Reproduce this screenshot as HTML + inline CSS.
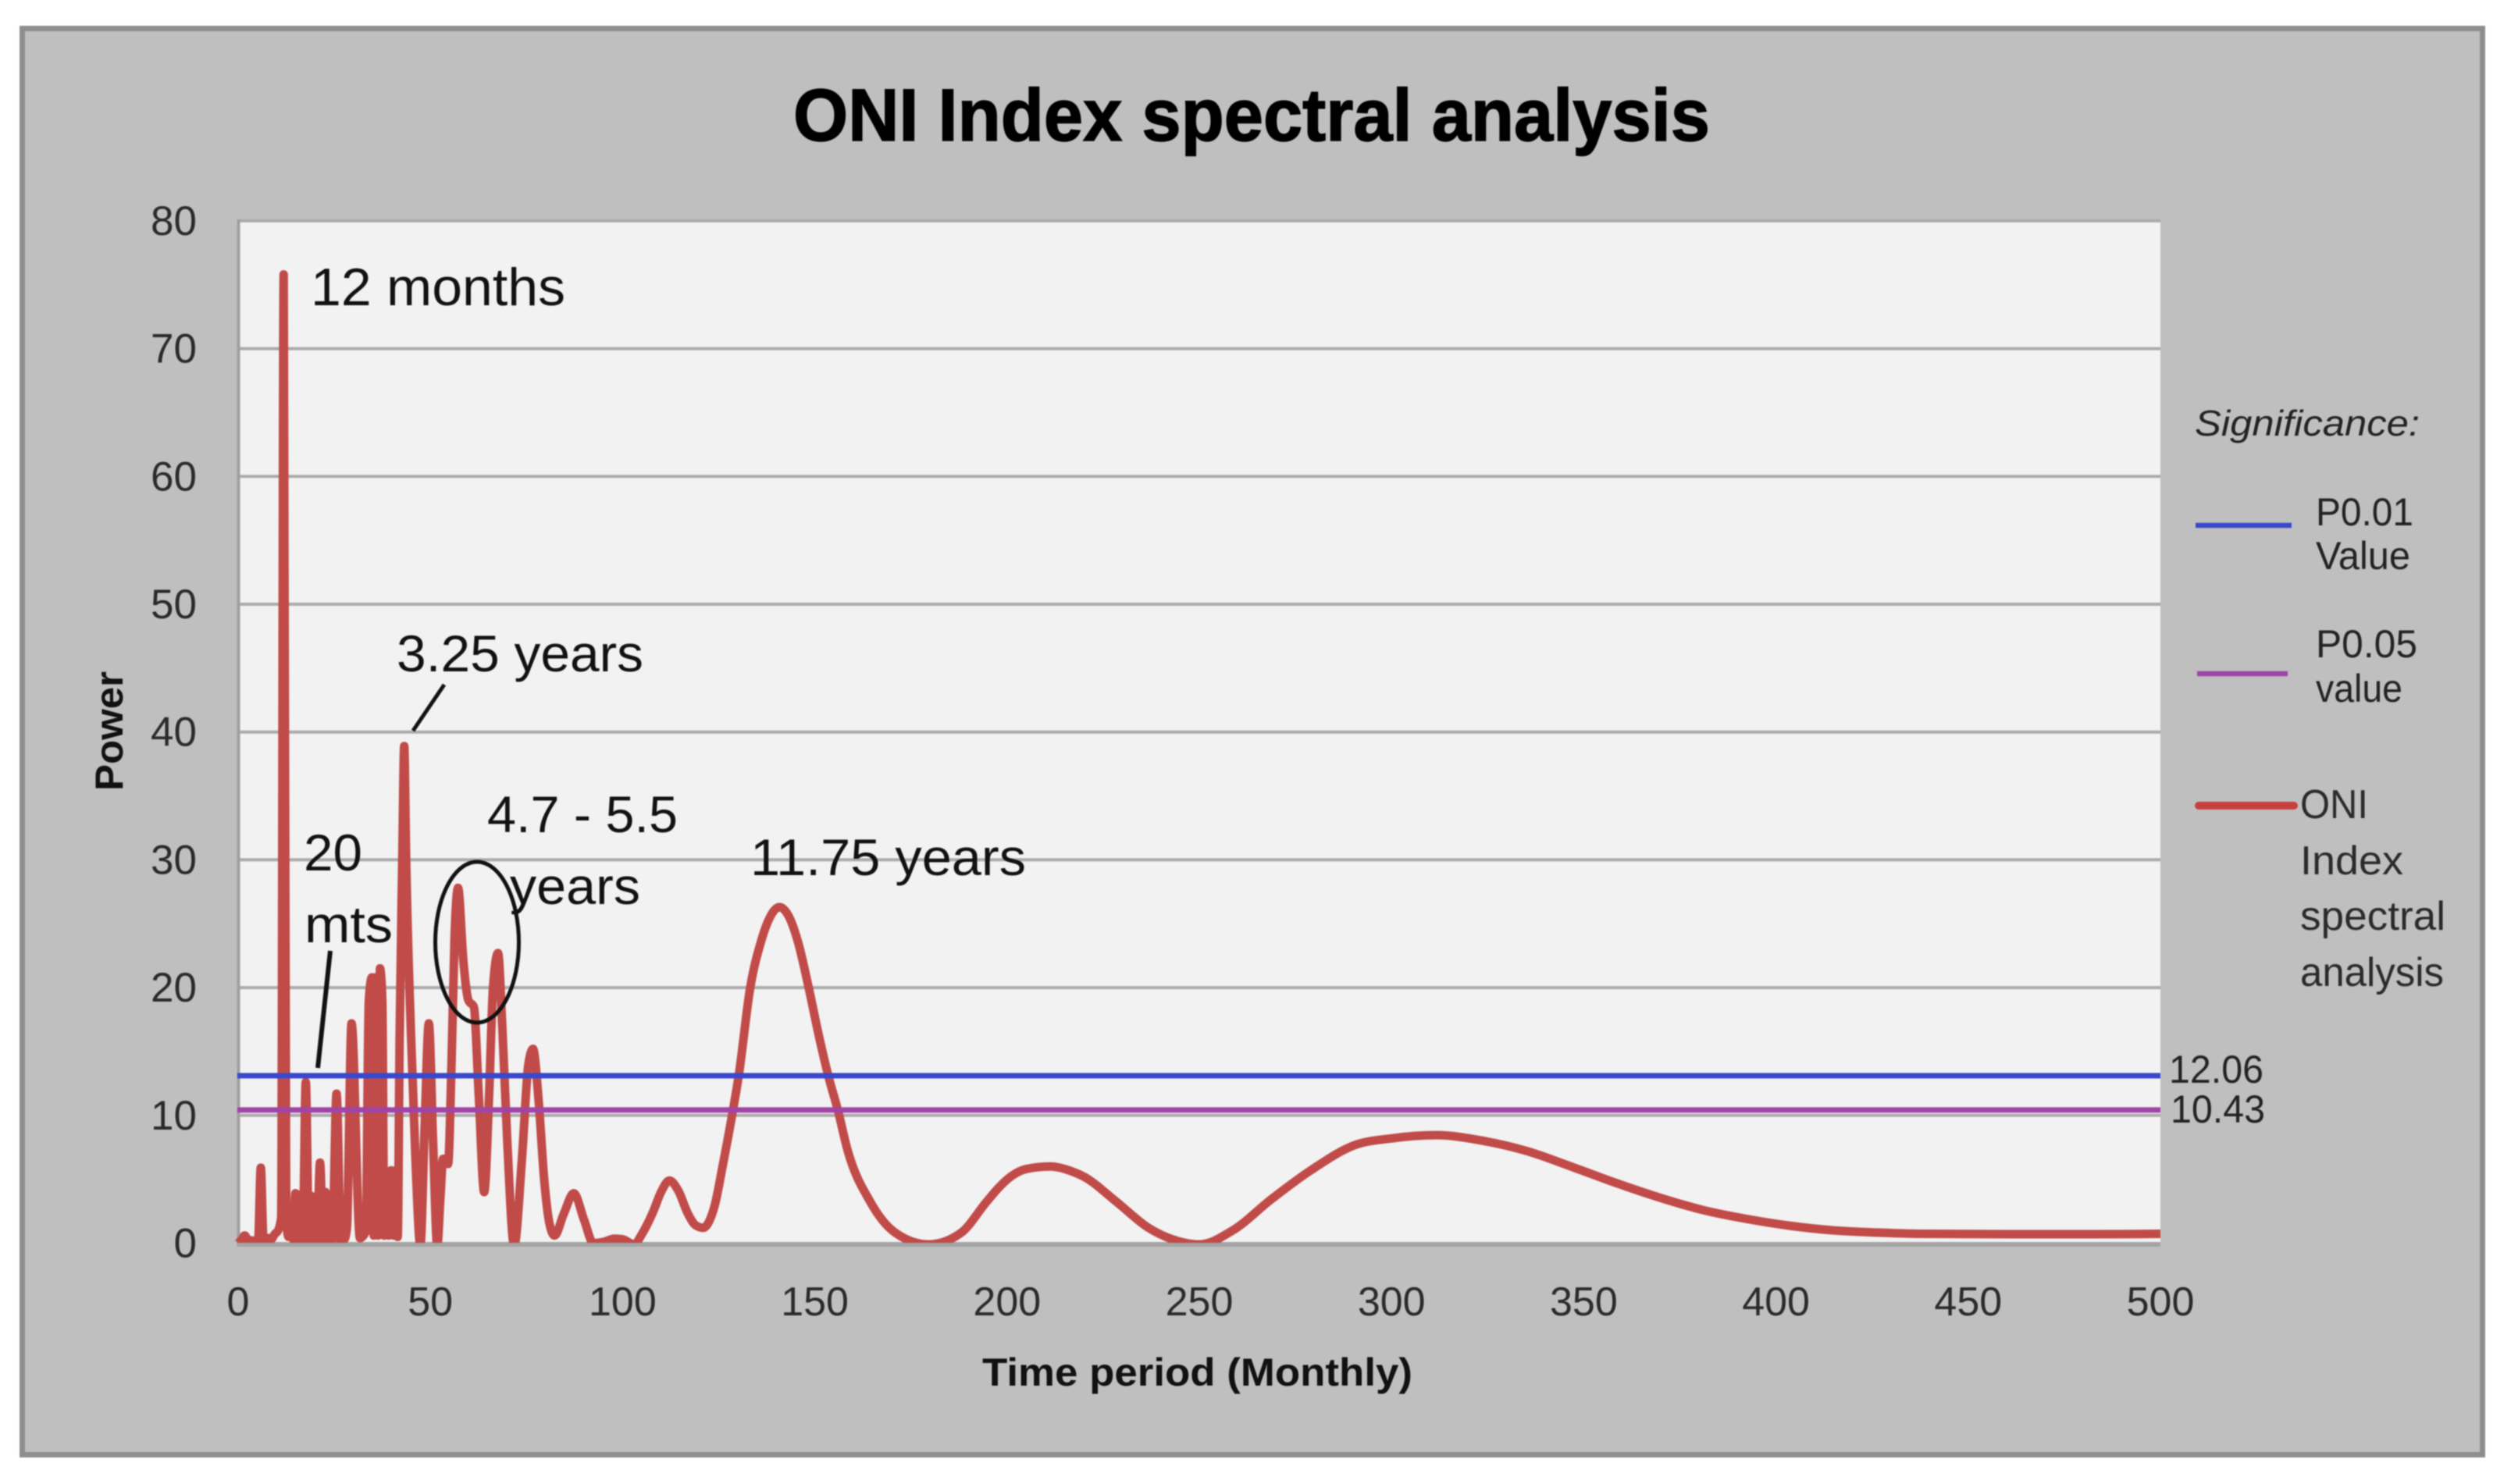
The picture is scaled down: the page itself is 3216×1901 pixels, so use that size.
<!DOCTYPE html>
<html lang="en">
<head>
<meta charset="utf-8">
<title>ONI Index spectral analysis</title>
<style>
html,body{margin:0;padding:0;background:#fff;}
svg{display:block;filter:blur(0.7px);}
text{font-family:"Liberation Sans",Arial,sans-serif;}
</style>
</head>
<body>
<svg id="chart" xmlns="http://www.w3.org/2000/svg" width="3216" height="1901" viewBox="0 0 3216 1901">
  <defs>
    <clipPath id="plot-clip"><rect x="300" y="200" width="2470" height="1392"></rect></clipPath>
  </defs>
  <rect x="28.5" y="36.5" width="3151" height="1827" fill="#bfbfbf" stroke="#8e8e8e" stroke-width="7"></rect>
  <rect x="305" y="283" width="2462" height="1310" fill="#f2f2f2"></rect>
  <g id="grid"></g>
  <line x1="305.5" y1="281" x2="305.5" y2="1596" stroke="#a0a0a0" stroke-width="4"></line>
  <line x1="304" y1="1594" x2="2767" y2="1594" stroke="#a4a4a4" stroke-width="6"></line>
  <g id="y-ticks"></g>
  <g id="x-ticks"></g>
  <g id="series" clip-path="url(#plot-clip)"></g>
  <g id="thresholds"></g>

  <text x="1016" y="180" font-size="95" font-weight="700" fill="#000" stroke="#000" stroke-width="1.5" textLength="1174" lengthAdjust="spacingAndGlyphs">ONI Index spectral analysis</text>
  <text x="1258" y="1775" font-size="50" font-weight="700" fill="#111" textLength="551" lengthAdjust="spacingAndGlyphs">Time period (Monthly)</text>
  <text transform="translate(157 1013) rotate(-90)" font-size="50" font-weight="700" fill="#111" textLength="153" lengthAdjust="spacingAndGlyphs">Power</text>

  <g fill="#111">
    <text x="398" y="391" font-size="68" textLength="326" lengthAdjust="spacingAndGlyphs">12 months</text>
    <text x="508" y="860" font-size="66" textLength="316" lengthAdjust="spacingAndGlyphs">3.25 years</text>
    <text x="624" y="1066" font-size="66" textLength="244" lengthAdjust="spacingAndGlyphs">4.7 - 5.5</text>
    <text x="653" y="1158" font-size="66" textLength="167" lengthAdjust="spacingAndGlyphs">years</text>
    <text x="389" y="1115" font-size="66" textLength="75" lengthAdjust="spacingAndGlyphs">20</text>
    <text x="390" y="1207" font-size="66" textLength="113" lengthAdjust="spacingAndGlyphs">mts</text>
    <text x="961" y="1121" font-size="66" textLength="353" lengthAdjust="spacingAndGlyphs">11.75 years</text>
  </g>
  <line x1="529" y1="936" x2="569" y2="877" stroke="#111" stroke-width="5"></line>
  <line x1="407" y1="1368" x2="423" y2="1218" stroke="#111" stroke-width="6"></line>
  <ellipse cx="611" cy="1207" rx="53.5" ry="103" fill="none" stroke="#111" stroke-width="5"></ellipse>

  <g>
    <text x="2811" y="558" font-size="46" font-style="italic" fill="#222" textLength="288" lengthAdjust="spacingAndGlyphs">Significance:</text>
    <line x1="2812" y1="673" x2="2935" y2="673" stroke="#3a48cc" stroke-width="6.5"></line>
    <text x="2966" y="673" font-size="50" fill="#222" textLength="125" lengthAdjust="spacingAndGlyphs">P0.01</text>
    <text x="2966" y="729" font-size="50" fill="#222" textLength="121" lengthAdjust="spacingAndGlyphs">Value</text>
    <line x1="2814" y1="863" x2="2930" y2="863" stroke="#a044a8" stroke-width="6.5"></line>
    <text x="2966" y="842" font-size="50" fill="#222" textLength="130" lengthAdjust="spacingAndGlyphs">P0.05</text>
    <text x="2966" y="899" font-size="50" fill="#222" textLength="111" lengthAdjust="spacingAndGlyphs">value</text>
    <line x1="2816" y1="1032" x2="2938" y2="1032" stroke="#c8403e" stroke-width="10" stroke-linecap="round"></line>
    <text x="2946" y="1048" font-size="52" fill="#2a2a2a" textLength="87" lengthAdjust="spacingAndGlyphs">ONI</text>
    <text x="2946" y="1120" font-size="52" fill="#2a2a2a" textLength="132" lengthAdjust="spacingAndGlyphs">Index</text>
    <text x="2946" y="1191" font-size="52" fill="#2a2a2a" textLength="186" lengthAdjust="spacingAndGlyphs">spectral</text>
    <text x="2946" y="1263" font-size="52" fill="#2a2a2a" textLength="184" lengthAdjust="spacingAndGlyphs">analysis</text>
  </g>
</svg>
<script>
const yTickValues = [0, 10, 20, 30, 40, 50, 60, 70, 80];
const xTickValues = [0, 50, 100, 150, 200, 250, 300, 350, 400, 450, 500];
const thresholdValues = [13.1, 10.42];
const thresholdLabels = ["12.06", "10.43"];
const periodMonths = [
  0, 1, 1.7, 2.6, 4, 5.2, 5.9, 6.6, 7.8, 8.6,
  9.5, 10.4, 11.2, 11.85, 12.5, 13.1, 13.7, 14.3, 14.9, 15.5,
  16.1, 16.8, 17.6, 18.4, 19, 19.5, 20, 20.5, 21.3, 22.1,
  22.7, 23.3, 23.9, 24.5, 25.6, 26.7, 27.2, 27.6, 28.3, 29.5,
  31.7, 33.2, 34, 34.8, 35.3, 35.8, 36.4, 36.9, 37.5, 38,
  38.6, 39.2, 39.8, 40.4, 41, 41.5, 42, 42.7, 43.2, 43.7,
  45, 46.2, 47.4, 48.5, 49.6, 50.7, 51.8, 52.6, 53.3, 54.6,
  55.5, 56.3, 57.2, 58.6, 59.9, 61.3, 62.6, 64, 65.3, 66.3,
  67.6, 68.7, 70, 71.8, 73.8, 75.5, 76.7, 78.2, 79.6, 81,
  82.3, 84.7, 87.3, 90, 92.4, 95, 97.9, 100, 103, 105,
  108, 110, 112.2, 114.5, 117, 119, 121, 122.5, 124, 126,
  128.7, 130.2, 133.2, 136, 138, 140.8, 143, 145.6, 148.4, 151, 153.5, 156,
  158.5, 164.4, 171, 179.6, 188, 194.7, 198, 201.4, 205, 211.2, 217, 220, 228.4,
  236.8, 243, 250, 258.7, 268.8, 279, 290.7, 300, 311.7, 324, 335.3,
  346.7, 358, 369.4, 380.9, 392.3, 403.7, 415, 426.5, 437.9, 460.6,
  483, 500
];
const powerValues = [
  0, 0.3, 0.6, 0.25, 0.2, 0.2, 5.9, 0.2, 0.4, 0.3,
  0.7, 1, 2, 75.8, 2, 0.5, 2.6, 0.3, 3.9, 0.3,
  3.8, 0.2, 12.6, 0.2, 3.7, 0.2, 3.6, 0.2, 6.3, 0.2,
  4, 0.2, 3.7, 0.2, 11.7, 0.2, 3.5, 0.3, 1.2, 17.2,
  0.4, 0.9, 19, 20.8, 0.6, 20.8, 0.6, 21.5, 19, 0.6,
  5.6, 0.6, 5.7, 0.6, 5.7, 0.5, 16, 30, 38.9, 30,
  16, 6, -0.2, 9, 17.2, 8, -0.2, 3.5, 6.6, 6.2,
  14, 24, 27.8, 22, 19, 18.5, 11.5, 4, 11.8, 20,
  22.7, 17, 8, -0.2, 6.5, 14, 15.2, 11, 5, 1.5,
  0.6, 2.3, 3.9, 1.8, 0, 0.1, 0.35, 0.3, -0.1, 0.7,
  2.5, 4, 4.9, 4.1, 2.3, 1.4, 1.2, 1.7, 3, 6,
  10.4, 13.1, 20, 23.6, 25.3, 26.3, 25.7, 23.6, 20, 16.3, 13.1, 10.4,
  7.3, 3.25, 0.8, -0.1, 0.8, 3.25, 4.4, 5.3, 5.8, 6, 5.6, 5.2, 3.25,
  1.2, 0.3, -0.1, 1, 3.45, 5.7, 7.7, 8.2, 8.45, 8, 7.2,
  6, 4.75, 3.6, 2.6, 1.9, 1.36, 1, 0.83, 0.73, 0.7,
  0.7, 0.73
];

const NS = 'http://www.w3.org/2000/svg';
const X0 = 305, X_PER_UNIT = 4.924;
const Y0 = 1592.5, Y_PER_UNIT = 16.37;
function xScale(v) { return X0 + v * X_PER_UNIT; }
function yScale(v) { return Y0 - v * Y_PER_UNIT; }

function make(tag, attrs, parent) {
  const el = document.createElementNS(NS, tag);
  for (const k in attrs) el.setAttribute(k, attrs[k]);
  parent.appendChild(el);
  return el;
}

const gridLayer = document.getElementById('grid');
const yLayer = document.getElementById('y-ticks');
yTickValues.forEach(function (v) {
  if (v > 0) {
    const g = make('line', { x1: 304, x2: 2767, y1: yScale(v), y2: yScale(v), stroke: '#ababab', 'stroke-width': 4 }, gridLayer);
    
    
  }
  const t = make('text', { x: 252, y: yScale(v) + 18, 'text-anchor': 'end', 'font-size': 53, fill: '#2a2a2a' }, yLayer);
  t.textContent = String(v);
  
  
});

const xLayer = document.getElementById('x-ticks');
xTickValues.forEach(function (v) {
  const t = make('text', { x: xScale(v), y: 1685, 'text-anchor': 'middle', 'font-size': 52, fill: '#2a2a2a' }, xLayer);
  t.textContent = String(v);
  
  
});

/* monotone cubic path through the read-off points */
function monotonePath(xs, ys) {
  const n = xs.length, d = [], m = [];
  for (let i = 0; i < n - 1; i++) d.push((ys[i + 1] - ys[i]) / (xs[i + 1] - xs[i]));
  m.push(d[0]);
  for (let i = 1; i < n - 1; i++) {
    if (d[i - 1] * d[i] <= 0) { m.push(0); continue; }
    const h0 = xs[i] - xs[i - 1], h1 = xs[i + 1] - xs[i];
    const centered = (h1 * d[i - 1] + h0 * d[i]) / (h0 + h1);
    const limit = 2 * Math.min(Math.abs(d[i - 1]), Math.abs(d[i]));
    m.push(Math.sign(centered) * Math.min(Math.abs(centered), limit));
  }
  m.push(d[n - 2]);
  let p = 'M' + xs[0].toFixed(2) + ' ' + ys[0].toFixed(2);
  for (let i = 0; i < n - 1; i++) {
    const h = (xs[i + 1] - xs[i]) / 3;
    p += 'C' + (xs[i] + h).toFixed(2) + ' ' + (ys[i] + m[i] * h).toFixed(2) + ' ' +
      (xs[i + 1] - h).toFixed(2) + ' ' + (ys[i + 1] - m[i + 1] * h).toFixed(2) + ' ' +
      xs[i + 1].toFixed(2) + ' ' + ys[i + 1].toFixed(2);
  }
  return p;
}

const seriesLayer = document.getElementById('series');
const oniLine = make('path', {
  d: monotonePath(periodMonths.map(xScale), powerValues.map(yScale)),
  fill: 'none', stroke: '#c04b48', 'stroke-width': 11, 'stroke-linejoin': 'round'
}, seriesLayer);



const thresholdLayer = document.getElementById('thresholds');
const thresholdColors = ['#3a48cc', '#a044a8'];
const thresholdLabelBaselineOffsets = [9, 16];
const thresholdLabelX = [2778, 2780];
thresholdValues.forEach(function (v, i) {
  const ln = make('line', { x1: 304, x2: 2767, y1: yScale(v), y2: yScale(v), stroke: thresholdColors[i], 'stroke-width': 7 }, thresholdLayer);
  
  
  const t = make('text', { x: thresholdLabelX[i], y: yScale(v) + thresholdLabelBaselineOffsets[i], 'font-size': 50, fill: '#222', textLength: 121, lengthAdjust: 'spacingAndGlyphs' }, thresholdLayer);
  t.textContent = thresholdLabels[i];
  
  
});
</script>
</body>
</html>
